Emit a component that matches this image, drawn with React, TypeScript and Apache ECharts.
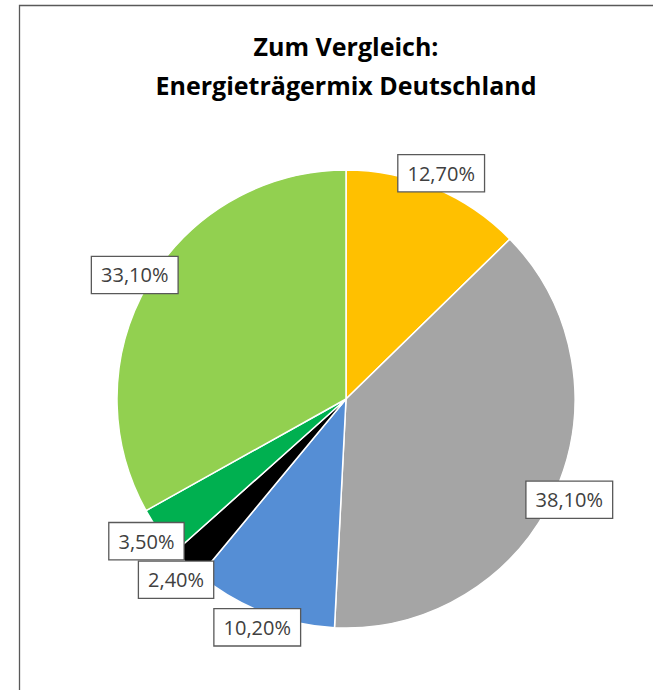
import React, { useEffect, useRef } from "react";
import * as echarts from "echarts";

const categories = ["A", "B", "C", "D", "E", "F"];
const values = [12.7, 38.1, 10.2, 2.4, 3.5, 33.1];
const labels = ["12,70%", "38,10%", "10,20%", "2,40%", "3,50%", "33,10%"];
const colors = ["#FFC000", "#A5A5A5", "#558ED5", "#000000", "#00B050", "#92D050"];
const titleLines = ["Zum Vergleich:", "Energieträgermix Deutschland"];

const CX = 346;
const CY = 399;
const R = 229;
const LABEL_R = R + 16;

export default function App() {
  const ref = useRef<HTMLDivElement>(null);
  useEffect(() => {
    if (!ref.current) return;
    const chart = echarts.init(ref.current, undefined, { renderer: "svg" });
    const total = values.reduce((a, b) => a + b, 0);
    const cum: number[] = [];
    let acc = 0;
    values.forEach((v) => {
      cum.push(acc + v / 2);
      acc += v;
    });
    chart.setOption({
      animation: false,
      backgroundColor: "#ffffff",
      graphic: [
        {
          type: "polyline",
          shape: {
            points: [
              [19.5, 690],
              [19.5, 5.5],
              [653, 5.5],
            ],
          },
          style: { fill: "none", stroke: "#595959", lineWidth: 1.3 },
          silent: true,
        },
        {
          type: "text",
          x: CX,
          y: 26,
          style: {
            text: titleLines.join("\n"),
            align: "center",
            verticalAlign: "top",
            font: "bold 25px 'Open Sans', sans-serif",
            lineHeight: 39,
            fill: "#000000",
          },
        },
      ],
      series: [
        {
          type: "pie",
          center: [CX, CY],
          radius: [0, R],
          startAngle: 90,
          clockwise: true,
          avoidLabelOverlap: false,
          itemStyle: { borderColor: "#ffffff", borderWidth: 1.5 },
          labelLine: { show: false },
          label: {
            show: true,
            position: "outside",
            formatter: (p: any) => labels[p.dataIndex],
            fontFamily: "'Open Sans', sans-serif",
            fontSize: 20,
            color: "#404040",
            backgroundColor: "#ffffff",
            borderColor: "#595959",
            borderWidth: 1.3,
            padding: [8, 9, 8, 9],
          },
          labelLayout: (params: any) => {
            const i = params.dataIndex;
            const theta = (cum[i] / total) * Math.PI * 2;
            return {
              x: CX + LABEL_R * Math.sin(theta),
              y: CY - LABEL_R * Math.cos(theta),
              align: "center",
              verticalAlign: "middle",
              moveOverlap: "shiftY",
            };
          },
          data: categories.map((c, i) => ({
            name: c,
            value: values[i],
            itemStyle: { color: colors[i] },
          })),
        },
      ],
    });
    return () => chart.dispose();
  }, []);
  return (
    <div
      ref={ref}
      style={{
        position: "absolute",
        left: 0,
        top: 0,
        width: 653,
        height: 690,
        overflow: "hidden",
      }}
    />
  );
}
